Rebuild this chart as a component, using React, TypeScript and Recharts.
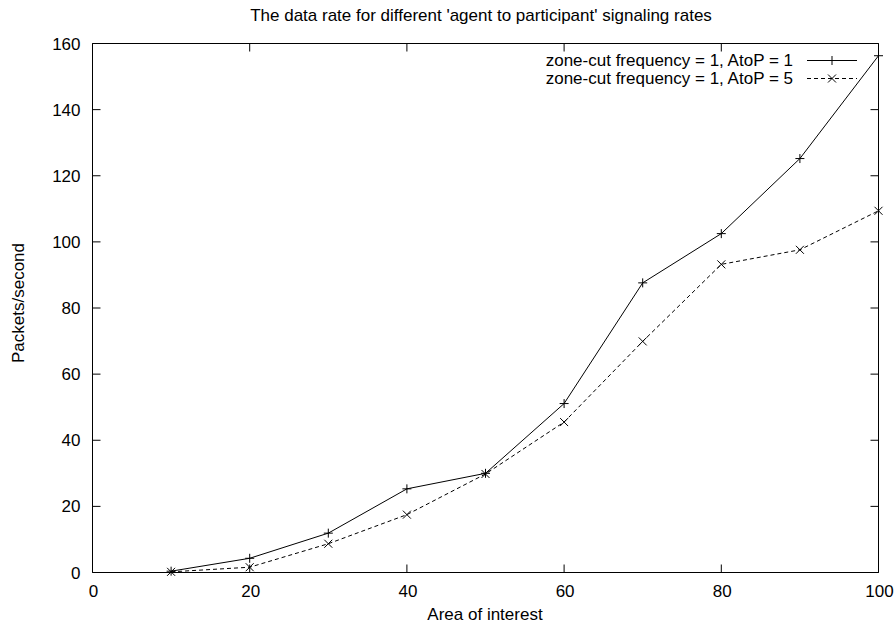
import { LineChart, Line, XAxis, YAxis, ReferenceArea } from "recharts";

// Area of interest (x) and packets/second for the two AtoP rates
const areaOfInterest = [10, 20, 30, 40, 50, 60, 70, 80, 90, 100];
const atop1 = [0.4, 4.3, 11.9, 25.3, 30.0, 51.1, 87.6, 102.5, 125.2, 156.3];
const atop5 = [0.2, 1.6, 8.7, 17.5, 29.8, 45.5, 69.9, 93.2, 97.6, 109.4];

const xTicks = [0, 20, 40, 60, 80, 100];
const yTicks = [0, 20, 40, 60, 80, 100, 120, 140, 160];

const title = "The data rate for different 'agent to participant' signaling rates";
const xLabel = "Area of interest";
const yLabel = "Packets/second";
const seriesNames = [
  "zone-cut frequency = 1, AtoP = 1",
  "zone-cut frequency = 1, AtoP = 5",
];

const FONT = "'Liberation Sans', Arial, Helvetica, sans-serif";
const FS = 17;
const TICK = 8;
const W = 896;
const H = 626;
// half-pixel offsets keep the 1px frame crisp
const MARGIN = { top: 43.5, right: 17.5, bottom: 0, left: 0 };
const Y_AXIS_W = 92.5;
const X_AXIS_H = 53.5;
// plot box edges, used to mirror the tick marks on the top and right sides
const PLOT_TOP = MARGIN.top;
const PLOT_RIGHT = W - MARGIN.right;

const data = areaOfInterest.map((x, i) => ({ x, a1: atop1[i], a5: atop5[i] }));

function Plus({ cx, cy }: { cx: number; cy: number }) {
  return (
    <path d={`M${cx - 4.5},${cy}H${cx + 4.5}M${cx},${cy - 4.5}V${cy + 4.5}`} stroke="#000" strokeWidth={1} fill="none" />
  );
}

function Cross({ cx, cy }: { cx: number; cy: number }) {
  return (
    <path
      d={`M${cx - 4},${cy - 4}L${cx + 4},${cy + 4}M${cx - 4},${cy + 4}L${cx + 4},${cy - 4}`}
      stroke="#000"
      strokeWidth={1}
      fill="none"
    />
  );
}

// gnuplot-style ticks: marks point into the plot (mirrored), labels outside
const BottomTick = ({ x, y, payload }: any) => (
  <g>
    <line x1={x} x2={x} y1={y} y2={y - TICK} stroke="#000" />
    <line x1={x} x2={x} y1={PLOT_TOP} y2={PLOT_TOP + TICK} stroke="#000" />
    <text x={x + 1} y={y + 24} textAnchor="middle" fontFamily={FONT} fontSize={FS} fill="#000">
      {payload.value}
    </text>
  </g>
);

const LeftTick = ({ x, y, payload }: any) => (
  <g>
    <line x1={x} x2={x + TICK} y1={y} y2={y} stroke="#000" />
    <line x1={PLOT_RIGHT} x2={PLOT_RIGHT - TICK} y1={y} y2={y} stroke="#000" />
    <text x={x - 12} y={y + 6} textAnchor="end" fontFamily={FONT} fontSize={FS} fill="#000">
      {payload.value}
    </text>
  </g>
);

function LegendOverlay() {
  return (
    <svg width={W} height={100} style={{ position: "absolute", left: 0, top: 0, pointerEvents: "none" }}>
      <text x={481} y={21} textAnchor="middle" fontFamily={FONT} fontSize={FS} fill="#000">
        {title}
      </text>
      {seriesNames.map((name, i) => {
        const y = 60.5 + i * 18;
        return (
          <g key={name}>
            <text x={793} y={y + 5} textAnchor="end" fontFamily={FONT} fontSize={FS} fill="#000">
              {name}
            </text>
            <line x1={807} x2={857} y1={y} y2={y} stroke="#000" strokeDasharray={i === 1 ? "4 3" : undefined} />
            {i === 0 ? <Plus cx={832} cy={y} /> : <Cross cx={832} cy={y} />}
          </g>
        );
      })}
    </svg>
  );
}

export default function App() {
  return (
    <div style={{ position: "absolute", left: 0, top: 0, width: W, height: H, background: "#fff" }}>
      <LineChart width={W} height={H} data={data} margin={MARGIN} style={{ fontFamily: FONT }}>
        <XAxis
          dataKey="x"
          type="number"
          domain={[0, 100]}
          ticks={xTicks}
          interval={0}
          axisLine={false}
          tickLine={false}
          tickSize={0}
          tickMargin={0}
          height={X_AXIS_H}
          tick={<BottomTick />}
          label={() => (
            <text x={485} y={620} textAnchor="middle" fontFamily={FONT} fontSize={FS} fill="#000">
              {xLabel}
            </text>
          )}
        />
        <YAxis
          type="number"
          domain={[0, 160]}
          ticks={yTicks}
          interval={0}
          axisLine={false}
          tickLine={false}
          tickSize={0}
          tickMargin={0}
          width={Y_AXIS_W}
          tick={<LeftTick />}
          label={() => (
            <text
              x={24}
              y={303}
              transform="rotate(-90 24 303)"
              textAnchor="middle"
              fontFamily={FONT}
              fontSize={FS}
              fill="#000"
            >
              {yLabel}
            </text>
          )}
        />
        <ReferenceArea x1={0} x2={100} y1={0} y2={160} fill="none" stroke="#000" strokeWidth={1} ifOverflow="visible" />
        <Line
          dataKey="a1"
          type="linear"
          stroke="#000"
          strokeWidth={1}
          isAnimationActive={false}
          dot={(p: any) => <Plus key={`a1-${p.index}`} cx={p.cx} cy={p.cy} />}
          activeDot={false}
        />
        <Line
          dataKey="a5"
          type="linear"
          stroke="#000"
          strokeWidth={1}
          strokeDasharray="4 3"
          isAnimationActive={false}
          dot={(p: any) => <Cross key={`a5-${p.index}`} cx={p.cx} cy={p.cy} />}
          activeDot={false}
        />
      </LineChart>
      <LegendOverlay />
    </div>
  );
}
